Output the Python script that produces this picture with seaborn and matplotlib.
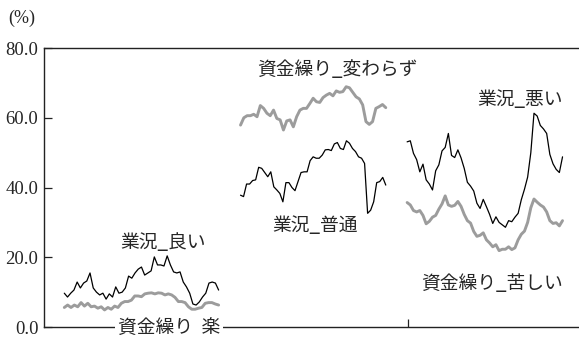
import numpy as np
import matplotlib
matplotlib.use("Agg")
import matplotlib.pyplot as plt
import seaborn as sns

# panel 1 : 業況_良い (black) / 資金繰り_楽 (gray)
good = [9.7, 8.6, 9.7, 10.6, 12.9, 11.2, 12.6, 13.2, 15.5, 11.2, 10.0, 9.2, 9.7, 8.0, 9.5, 8.6,
        11.5, 9.7, 10.0, 11.2, 14.6, 14.0, 15.5, 16.6, 17.2, 14.9, 15.5, 16.1, 20.1, 17.8, 17.8,
        17.5, 20.4, 17.8, 15.8, 15.5, 15.8, 12.9, 11.5, 9.7, 6.6, 6.3, 7.2, 8.6, 9.7, 12.6, 12.9,
        12.6, 10.6]
easy = [5.6, 6.3, 5.6, 6.3, 5.8, 7.0, 6.0, 6.8, 5.8, 6.0, 5.4, 5.8, 4.9, 5.6, 5.1, 6.0, 5.6,
        6.8, 7.3, 7.3, 7.7, 8.9, 8.9, 8.7, 9.5, 9.7, 9.8, 9.5, 9.8, 9.7, 9.2, 9.5, 9.2, 8.5, 7.3,
        7.3, 7.0, 5.8, 5.1, 5.1, 5.4, 5.6, 6.8, 7.0, 7.0, 6.6, 6.3]

# panel 2 : 業況_普通 (black) / 資金繰り_変わらず (gray)
normal = [37.8, 37.4, 41.0, 41.0, 42.0, 42.2, 45.8, 45.5, 44.3, 43.1, 44.5, 40.2, 39.3, 38.3,
          35.9, 41.4, 41.4, 40.0, 39.1, 41.7, 44.3, 44.5, 44.5, 47.7, 48.8, 48.4, 48.4, 49.3,
          50.8, 50.9, 50.6, 52.5, 52.9, 51.2, 50.9, 53.4, 52.7, 51.2, 50.3, 48.8, 48.4, 46.9,
          32.6, 33.5, 35.9, 41.4, 41.7, 42.9, 40.7]
unchanged = [57.9, 60.0, 60.6, 60.6, 61.0, 60.3, 63.5, 62.7, 61.3, 60.6, 62.2, 59.8, 59.4, 56.5,
             59.1, 59.4, 57.4, 60.3, 62.2, 62.7, 62.7, 64.1, 65.6, 64.6, 64.4, 65.8, 66.5, 67.0,
             66.3, 67.7, 67.3, 67.5, 68.9, 68.6, 67.3, 66.0, 65.4, 63.7, 58.9, 58.1, 58.9, 62.7,
             63.2, 63.8, 62.9]

# panel 3 : 業況_悪い (black) / 資金繰り_苦しい (gray)
bad = [53.1, 53.4, 49.8, 48.0, 44.5, 46.7, 42.2, 41.0, 39.3, 44.8, 46.5, 50.5, 51.5, 55.5, 49.2,
       48.6, 50.8, 48.5, 45.5, 41.5, 40.4, 39.0, 35.5, 34.0, 36.6, 34.5, 32.3, 29.7, 31.6, 30.0,
       29.3, 28.6, 30.5, 30.2, 31.5, 32.6, 36.5, 39.5, 43.0, 50.0, 61.3, 60.5, 57.8, 56.8, 55.5,
       49.5, 46.8, 45.2, 44.3, 48.8]
tight = [35.7, 35.0, 33.4, 33.0, 33.4, 32.0, 29.6, 30.3, 31.5, 32.0, 33.8, 35.3, 37.6, 35.0,
         34.6, 34.9, 36.0, 34.6, 32.3, 30.5, 29.8, 27.4, 26.0, 26.3, 27.0, 25.0, 24.1, 23.0,
         23.6, 21.9, 22.3, 22.3, 23.0, 22.2, 22.7, 25.0, 26.6, 27.5, 30.0, 34.2, 36.7, 35.8,
         35.0, 34.4, 33.0, 30.5, 29.7, 29.9, 29.0, 30.5]

yticks = [0, 20, 40, 60, 80]
ytick_labels = ["0.0", "20.0", "40.0", "60.0", "80.0"]

sns.set_style("ticks")
plt.rcParams["font.family"] = ["Liberation Serif", "Noto Sans CJK JP"]
jp = ["Noto Sans CJK JP"]

fig = plt.figure(figsize=(5.79, 3.38), dpi=100)
ax = fig.add_axes([0.076, 0.0325, 0.9223, 0.8254])

spans = [(3.8, 32.7), (36.8, 64.0), (68.0, 97.1)]
pairs = [(good, easy), (normal, unchanged), (bad, tight)]
for (x0, x1), (biz, fund) in zip(spans, pairs):
    sns.lineplot(x=np.linspace(x0, x1, len(fund)), y=fund, color="#9c9c9c", lw=2.1, ax=ax)
    sns.lineplot(x=np.linspace(x0, x1, len(biz)), y=biz, color="black", lw=0.9, ax=ax)

ax.set_xlim(0, 100)
ax.set_ylim(0, 80)
ax.set_yticks(yticks)
ax.set_yticklabels(ytick_labels, fontsize=13.5)
ax.set_xticks([68.2])
ax.set_xticklabels([""])
ax.tick_params(axis="both", direction="in", length=6, width=0.9, pad=4, color="#222222")
ax.set_xlabel("")
ax.set_ylabel("")
for side in ["left", "bottom", "top"]:
    ax.spines[side].set_linewidth(1.0)
    ax.spines[side].set_color("#222222")
ax.spines["right"].set_visible(False)

fs = 13.5
ax.text(22.3, 24.3, "業況_良い", family=jp, fontsize=fs, ha="center", va="center")
ax.text(23.4, 0, "資金繰り  楽", family=jp, fontsize=fs, ha="center", va="center",
        bbox=dict(facecolor="white", edgecolor="none", pad=2))
ax.text(54.9, 73.9, "資金繰り_変わらず", family=jp, fontsize=fs, ha="center", va="center")
ax.text(50.7, 29.2, "業況_普通", family=jp, fontsize=fs, ha="center", va="center")
ax.text(89.1, 65.3, "業況_悪い", family=jp, fontsize=fs, ha="center", va="center")
ax.text(83.9, 12.6, "資金繰り_苦しい", family=jp, fontsize=fs, ha="center", va="center")
fig.text(0.038, 0.947, "(%)", fontsize=13, ha="center", va="center")

fig.savefig("out.png", dpi=100)
